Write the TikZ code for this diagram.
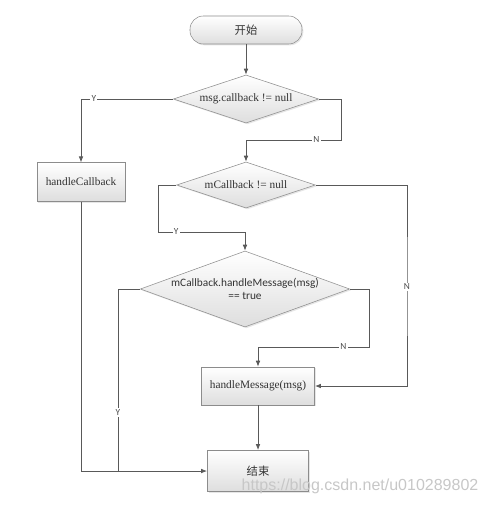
\documentclass[tikz,border=0pt]{standalone}
\usepackage{fontspec}
\setmainfont{Liberation Serif}
\newfontfamily\cjk{Noto Sans CJK SC}
\newfontfamily\calib{Carlito}
\newfontfamily\wmfont{Liberation Sans}
\usetikzlibrary{shapes.geometric, arrows.meta, shadows}

\tikzset{
    line/.style={draw=black!65, line width=0.6pt},
    arr/.style={line, -{Latex[length=4.5pt, width=3.5pt]}},
    lab/.style={fill=white, inner sep=1pt, font=\calib\fontsize{7}{8}\selectfont, text=black!70},
    shade box/.style={draw=black!45, top color=white, bottom color=black!13,
        drop shadow={opacity=0.2, shadow xshift=1pt, shadow yshift=-1pt},
        font=\fontsize{8.5}{10}\selectfont, text=black!80},
    term/.style={shade box, rounded corners=10pt, minimum width=84pt, minimum height=21pt},
    proc/.style={shade box, rectangle, inner sep=0pt},
    decide/.style={shade box, diamond, inner sep=0pt}
}

\begin{document}
\begin{tikzpicture}[x=0.75pt, y=-0.75pt]
        \useasboundingbox (0,0) rectangle (485,506);

        % Nodes, pixel grid with y running down
        \node[term] (start) at (246,30) {\cjk 开始};
        \node[decide, minimum width=109pt, minimum height=36pt] (chkcb) at (246,99)
            {\makebox[0pt]{msg.callback != null}};                          % Test 1
        \node[proc, minimum width=66pt, minimum height=29pt] (hcb) at (81,182) {handleCallback};
        \node[decide, minimum width=104pt, minimum height=34.5pt] (chkm) at (246,185)
            {\makebox[0pt]{mCallback != null}};                             % Test 2
        \node[decide, minimum width=157pt, minimum height=57pt] (chkh) at (245,289)
            {\makebox[0pt]{\calib\shortstack{mCallback.handleMessage(msg)\\== true}}}; % Test 3
        \node[proc, minimum width=85pt, minimum height=28.5pt] (hmsg) at (258,386) {handleMessage(msg)};
        \node[proc, minimum width=76pt, minimum height=31pt] (finish) at (258,471) {\cjk 结束};

        % Elbows of the connectors
        \coordinate (b1) at (341,140);   % N of test 1
        \coordinate (b2) at (158,232);   % Y of test 2
        \coordinate (b3) at (407,287);   % N of test 2
        \coordinate (b4) at (369,347);   % N of test 3
        \coordinate (b5) at (118,471);   % Y of test 3, joins bottom line

        \draw[arr] (start) -- (chkcb);
        \draw[arr] (chkcb.west) -| node[lab, pos=0.43] {Y} (hcb.north);
        \draw[arr] (chkcb.east) -| (b1) -- node[lab, pos=0.26] {N} (b1 -| chkm.north) -- (chkm.north);
        \draw[arr] (chkm.west) -| (b2) -- node[lab, pos=0.21] {Y} (b2 -| chkh.north) -- (chkh.north);
        \draw[arr] (chkm.east) -| (b3) node[lab] {N} |- (hmsg.east);
        \draw[arr] (chkh.east) -| (b4) -- node[lab, pos=0.23] {N} (b4 -| hmsg.north) -- (hmsg.north);
        \draw[line] (chkh.west) -| node[lab, pos=0.84] {Y} (b5);
        \draw[arr] (hcb.south) |- (finish.west);
        \draw[arr] (hmsg) -- (finish);

        \node[font=\wmfont\fontsize{12}{14}\selectfont, text=black!22] (wm) at (360,486)
            {https://blog.csdn.net/u010289802};
\end{tikzpicture}
\end{document}
